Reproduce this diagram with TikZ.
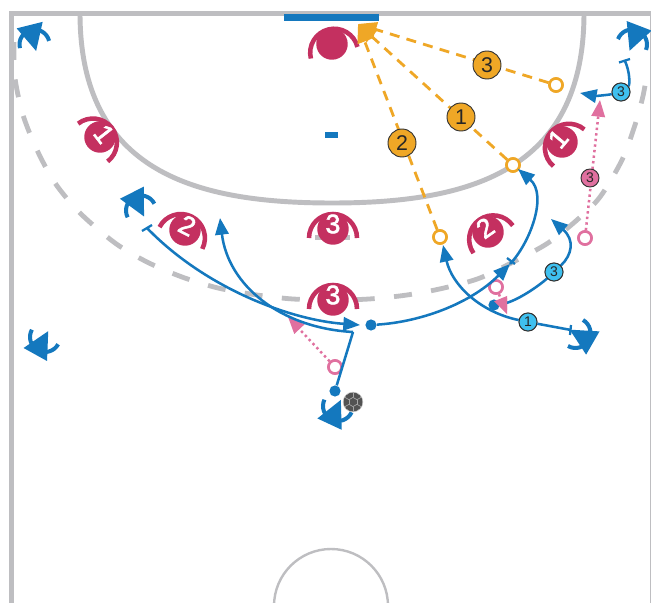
\documentclass[tikz,border=0pt]{standalone}
\usepackage{fontspec}
\setmainfont{Liberation Sans}
\newfontfamily\numfont[FakeBold=2.2]{Liberation Sans}
\usetikzlibrary{arrows.meta}
\definecolor{tblue}{HTML}{1478BE}
\definecolor{tmag}{HTML}{C43060}
\definecolor{tpink}{HTML}{E0709F}
\definecolor{torange}{HTML}{EFA726}
\definecolor{tcyan}{HTML}{3FC0EF}
\definecolor{tgray}{HTML}{BEBEC1}
\tikzset{
  courtline/.style={draw=tgray,line width=3.75pt},
  arcline/.style={draw=tgray,line width=3.7pt},
  nineline/.style={draw=tgray,line width=3.6pt,dash pattern=on 13.5pt off 14.6pt},
  thinline/.style={draw=tgray,line width=1.8pt},
  move/.style={draw=tblue,line width=1.9pt},
  movearrow/.style={move,-{Triangle[length=12.5pt,width=10pt]}},
  tbar/.style={draw=tblue,line width=1.7pt},
  shot/.style={draw=torange,line width=2.1pt,dash pattern=on 7.5pt off 5.5pt,-{Triangle[length=14pt,width=11pt]}},
  cue/.style={draw=tpink,line width=1.9pt,dash pattern=on 1.8pt off 2.4pt,-{Triangle[length=12.5pt,width=10pt]}},
  hollow/.style={circle,fill=white,line width=1.9pt,minimum size=9.8pt,inner sep=0pt},
  blueDot/.style={circle,fill=tblue,minimum size=8.4pt,inner sep=0pt},
  badge/.style={circle,draw=black!80,line width=.7pt,inner sep=0pt,text=black!85},
  bigbadge/.style={badge,fill=torange,minimum size=21pt,font=\fontsize{16}{16}\selectfont},
  cyanbadge/.style={badge,fill=tcyan,minimum size=13.5pt,font=\fontsize{10.5}{11}\selectfont},
  pinkbadge/.style={badge,fill=tpink,minimum size=13.5pt,font=\fontsize{10.5}{11}\selectfont},
  pics/mplayer/.style={code={
    \begin{scope}[y=.75pt]
      \fill[tmag] (0,0) circle[radius=11.8pt];
      \draw[tmag,line width=3.4pt] (24,-9) arc[start angle=0,end angle=180,radius=18pt];
      \node[transform shape,text=white,inner sep=0pt,font=\numfont\fontsize{20}{20}\selectfont] (-num) at (0,5) {#1};
    \end{scope}}},
  pics/bplayer/.style={code={
    \begin{scope}[y=.75pt]
      \fill[tblue] (-13.4,20) -- (13.4,20) -- (0,-6.7) -- cycle;
      \draw[tblue,line width=3pt] (15,0) arc[start angle=0,end angle=180,radius=11.25pt];
    \end{scope}}},
}
\begin{document}
\begin{tikzpicture}[x=.75pt,y=-.75pt]
\useasboundingbox (0,0) rectangle (651,603);
\fill[white] (0,0) rectangle (651,603);
% court
\draw[courtline] (11,603) -- (11,13) -- (651,13);
\draw[draw=tgray,line width=.9pt] (650.5,13) -- (650.5,603);
\draw[arcline] (80,13) .. controls (80,173) and (197,203) .. (332,203) .. controls (467,203) and (584,173) .. (584,13);
\draw[nineline] plot[smooth] coordinates {(14,42) (15,78) (23,115) (37,150) (55,183) (80,213) (115,243) (147,262) (182,277) (218,288) (257,295) (293,299) (333,300) (369,299) (407,295) (444,288) (480,278) (517,260) (548,243) (577,220) (600,197) (622,160) (635,125) (643,96) (647,73)};
\draw[thinline] (331,606) circle[radius=42.75pt];
\draw[draw=tgray,line width=4pt] (315,237.5) -- (350,237.5);
\fill[tblue] (284,14) rectangle (379,21);
\fill[tblue] (325,132) rectangle (338,138);
% defenders
\pic[rotate=14] (d0) at (332,44) {mplayer={}};
\pic[rotate=-52] (d1) at (100,137) {mplayer=1};
\pic[rotate=50] (d2) at (562,142) {mplayer=1};
\pic[rotate=-27] (d3) at (185,230) {mplayer=2};
\pic[rotate=35] (d4) at (488,232) {mplayer=2};
\pic (d5) at (333,229) {mplayer=3};
\pic (d6) at (333,300) {mplayer=3};
% attackers
\pic[rotate=14] (a1) at (34.5,44.5) {bplayer};
\pic[rotate=27] (a2) at (141,210.5) {bplayer};
\pic[rotate=-21] (a3) at (632,44.5) {bplayer};
\pic[rotate=151] (a4) at (45,337) {bplayer};
\pic[rotate=-120] (a5) at (575.5,333) {bplayer};
\pic[rotate=155] (a6) at (338,406) {bplayer};
% ball
\fill[black!68] (353,402) circle[radius=7.2pt];
\draw[white!70!black,line width=.35pt] (353,402) circle[radius=7.4pt];
\foreach \a in {30,90,...,330}{
  \draw[black!35,line width=.5pt] (353,402) ++(\a:4.6) -- ++(\a+120:4.6);
  \draw[black!35,line width=.5pt] (353,402) ++(\a:4.6) -- ++(\a:5);
}
% named points
\coordinate (tip) at (358,24);
\node[hollow,draw=torange] (o3) at (556,85) {};
\node[hollow,draw=torange] (o1) at (513,165) {};
\node[hollow,draw=torange] (o2) at (440,237) {};
\node[hollow,draw=tpink] (h1) at (496,287) {};
\node[hollow,draw=tpink] (h2) at (585,238) {};
\node[hollow,draw=tpink] (h3) at (335,367) {};
\coordinate (c1) at (507,314);
\coordinate (c2) at (600,100);
\coordinate (c3) at (288,317);
\node[blueDot] (m1) at (371,325) {};
\node[blueDot] (m2) at (335,391) {};
\node[blueDot] (m3) at (494,305) {};
\coordinate (k) at (353,332);
\coordinate (s1) at (510,264);
\coordinate (e1) at (518,169);
\coordinate (e2) at (443,245);
\coordinate (e3) at (551,219);
\coordinate (e4) at (360,325);
\coordinate (e5) at (220,218);
\coordinate (e6) at (580,93);
\coordinate (t1) at (147,228);
\coordinate (t2) at (571,330);
\coordinate (t3) at (625,61);
% orange shots
\draw[shot] (o3) -- (tip);
\draw[shot] (o1) -- (tip);
\draw[shot] (o2) -- (tip);
\node[hollow,draw=torange] at (o3) {};
\node[hollow,draw=torange] at (o1) {};
\node[hollow,draw=torange] at (o2) {};
\node[bigbadge] (n3) at (487,65) {3};
\node[bigbadge] (n1) at (461,117) {1};
\node[bigbadge] (n2) at (402,143) {2};
% pink cues
\draw[cue] (h1) -- (c1);
\draw[cue] (h2) -- (c2);
\draw[cue] (h3) -- (c3);
\node[pinkbadge] (q3) at (590,178) {3};
\node[hollow,draw=tpink] at (h1) {};
\node[hollow,draw=tpink] at (h2) {};
\node[hollow,draw=tpink] at (h3) {};
% blue moves
\node[cyanbadge] (b1) at (528,322) {1};
\node[cyanbadge] (b3) at (554,272) {3};
\node[cyanbadge] (b3t) at (621,92) {3};
\draw[movearrow] (m1) .. controls (420,322) and (470,304) .. (s1);
\draw[movearrow] (s1) .. controls (530,243) and (548,195) .. (e1);
\draw[tbar] (507,258) -- (515,264);
\draw[movearrow] (b1) .. controls (480,312) and (452,285) .. (e2);
\draw[move] (b1) -- (t2);
\draw[tbar] (571,325) -- (570,335);
\draw[move] (m3) .. controls (515,303) and (540,285) .. (b3);
\draw[movearrow] (b3) .. controls (572,255) and (575,240) .. (e3);
\draw[movearrow] (t1) .. controls (205,288) and (290,320) .. (e4);
\draw[tbar] (142,231) -- (152,225);
\draw[movearrow] (k) .. controls (280,328) and (228,285) .. (e5);
\draw[move] (m2) -- (k);
\draw[movearrow] (b3t) .. controls (608,95) and (596,96) .. (e6);
\draw[move] (b3t) .. controls (630,85) and (630,72) .. (t3);
\draw[tbar] (619,62.5) -- (630,59);
\node[cyanbadge] at (b1) {1};
\node[cyanbadge] at (b3) {3};
\node[cyanbadge] at (b3t) {3};
\fill[tpink] (496,303) -- (507,298) -- (507,314) -- cycle;
\end{tikzpicture}
\end{document}
